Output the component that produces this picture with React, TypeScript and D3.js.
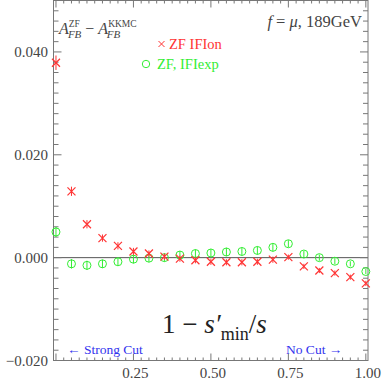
import { useEffect, useRef } from "react";
import * as d3 from "d3";

// x positions of the cut (1 - s'min/s)
const cuts = [0, 0.05, 0.1, 0.15, 0.2, 0.25, 0.3, 0.35, 0.4, 0.45, 0.5,
  0.55, 0.6, 0.65, 0.7, 0.75, 0.8, 0.85, 0.9, 0.95, 1.0];

// ZF IFIon minus KKMC
const ifiOn = [0.0379, 0.0129, 0.0065, 0.0038, 0.0023, 0.0012, 0.0008, 0.0002,
  -0.0002, -0.0005, -0.0008, -0.0009, -0.0009, -0.0008, -0.0004, 0.0001,
  -0.0017, -0.0025, -0.0030, -0.0038, -0.0050];
const ifiOnErr = [0.0014, 0.0009, 0.0008, 0.0007, 0.0007, 0.0007, 0.0006, 0.0006,
  0.0006, 0.0006, 0.0006, 0.0006, 0.0006, 0.0006, 0.0006, 0.0005,
  0.0005, 0.0005, 0.0005, 0.0005, 0.0005];

// ZF IFIexp minus KKMC
const ifiExp = [0.0050, -0.0012, -0.0015, -0.0012, -0.0008, -0.0003, -0.0001, 0.0000,
  0.0005, 0.0008, 0.0009, 0.0011, 0.0012, 0.0014, 0.0020, 0.0027,
  0.0007, 0.0000, -0.0007, -0.0012, -0.0027];
const ifiExpErr = [0.0010, 0.0009, 0.0009, 0.0008, 0.0008, 0.0008, 0.0008, 0.0008,
  0.0008, 0.0008, 0.0008, 0.0008, 0.0008, 0.0008, 0.0008, 0.0007,
  0.0006, 0.0006, 0.0006, 0.0005, 0.0005];

const xTicks = [0.25, 0.5, 0.75, 1.0];
const yTicks = [-0.02, 0, 0.02, 0.04];

const W = 382, H = 382;
const left = 53.5, right = 368, top = 0.5, bottom = 360.5;
const red = "#ff3333";
const green = "#33ee33";
const axisColor = "#777";
const textColor = "#444";
const font = "'Liberation Serif', serif";

function App() {
  const ref = useRef<SVGSVGElement>(null);

  useEffect(() => {
    const svg = d3.select(ref.current);
    svg.selectAll("*").remove();

    const x = d3.scaleLinear().domain([-0.008, 1.007]).range([left, right]);
    const y = d3.scaleLinear().domain([-0.02, 0.05]).range([bottom, top]);

    // frame
    svg.append("rect")
      .attr("x", left).attr("y", top)
      .attr("width", right - left).attr("height", bottom - top)
      .attr("fill", "none").attr("stroke", axisColor).attr("stroke-width", 1);

    // zero line
    svg.append("line")
      .attr("x1", left).attr("x2", right)
      .attr("y1", y(0)).attr("y2", y(0))
      .attr("stroke", "#555").attr("stroke-width", 1);

    // y ticks, both sides
    const yMinor = d3.range(-0.02, 0.0501, 0.002);
    yMinor.forEach(v => {
      const major = Math.abs(Math.round(v / 0.02) * 0.02 - v) < 1e-6;
      const len = major ? 8 : 5;
      svg.append("line").attr("x1", left).attr("x2", left + len)
        .attr("y1", y(v)).attr("y2", y(v)).attr("stroke", axisColor);
      svg.append("line").attr("x1", right).attr("x2", right - len)
        .attr("y1", y(v)).attr("y2", y(v)).attr("stroke", axisColor);
    });

    // x ticks, top and bottom
    const xMinor = d3.range(0, 1.0001, 0.025);
    xMinor.forEach(v => {
      const major = Math.abs(Math.round(v / 0.25) * 0.25 - v) < 1e-6;
      const len = major ? 7 : 3;
      svg.append("line").attr("x1", x(v)).attr("x2", x(v))
        .attr("y1", bottom).attr("y2", bottom - len).attr("stroke", axisColor);
      svg.append("line").attr("x1", x(v)).attr("x2", x(v))
        .attr("y1", top).attr("y2", top + len).attr("stroke", axisColor);
    });

    // tick labels
    svg.append("g").selectAll("text").data(yTicks).join("text")
      .attr("x", 48).attr("y", d => y(d) + 5)
      .attr("text-anchor", "end")
      .attr("font-family", font).attr("font-size", 15).attr("fill", textColor)
      .text(d => (d < 0 ? "\u2212" : "") + Math.abs(d).toFixed(3));

    svg.append("g").selectAll("text").data(xTicks).join("text")
      .attr("x", d => x(d) + 2).attr("y", 378)
      .attr("text-anchor", "middle")
      .attr("font-family", font).attr("font-size", 15).attr("fill", textColor)
      .text(d => d.toFixed(2));

    // error bars + markers
    const drawSeries = (vals: number[], errs: number[], color: string, kind: string) => {
      const g = svg.append("g");
      cuts.forEach((c, i) => {
        const cx = x(c), cy = y(vals[i]);
        g.append("line")
          .attr("x1", cx).attr("x2", cx)
          .attr("y1", y(vals[i] - errs[i])).attr("y2", y(vals[i] + errs[i]))
          .attr("stroke", color).attr("stroke-width", 1);
        if (kind === "x") {
          const s = 4;
          g.append("path")
            .attr("d", `M${cx - s},${cy - s}L${cx + s},${cy + s}M${cx - s},${cy + s}L${cx + s},${cy - s}`)
            .attr("stroke", color).attr("stroke-width", 1.2).attr("fill", "none");
        } else {
          g.append("circle").attr("cx", cx).attr("cy", cy).attr("r", 4)
            .attr("fill", "none").attr("stroke", color).attr("stroke-width", 1);
        }
      });
    };
    drawSeries(ifiExp, ifiExpErr, green, "o");
    drawSeries(ifiOn, ifiOnErr, red, "x");

    // legend
    const lx = 161.5, ly = 44;
    svg.append("path")
      .attr("d", `M${lx - 3},${ly - 3}L${lx + 3},${ly + 3}M${lx - 3},${ly + 3}L${lx + 3},${ly - 3}`)
      .attr("stroke", red).attr("stroke-width", 1);
    svg.append("text").attr("x", 169).attr("y", 48.5)
      .attr("font-family", font).attr("font-size", 14.5).attr("fill", red)
      .text("ZF IFIon");
    svg.append("circle").attr("cx", 146).attr("cy", 64).attr("r", 3.7)
      .attr("fill", "none").attr("stroke", green);
    svg.append("text").attr("x", 157).attr("y", 68.5)
      .attr("font-family", font).attr("font-size", 14.5).attr("fill", green)
      .text("ZF, IFIexp");

    // top left label
    const t = svg.append("text").attr("x", 59).attr("y", 34)
      .attr("font-family", font).attr("font-size", 16).attr("fill", textColor);
    t.append("tspan").attr("font-style", "italic").text("A");
    t.append("tspan").attr("font-size", 9.5).attr("dy", -7).text("ZF");
    t.append("tspan").attr("font-size", 11).attr("font-style", "italic").attr("dx", -12).attr("dy", 11).text("FB");
    t.append("tspan").attr("dy", -4).text(" \u2212 ");
    t.append("tspan").attr("font-style", "italic").text("A");
    t.append("tspan").attr("font-size", 9.5).attr("dy", -7).text("KKMC");
    t.append("tspan").attr("font-size", 11).attr("font-style", "italic").attr("dx", -30).attr("dy", 11).text("FB");

    // top right label
    const r = svg.append("text").attr("x", 362).attr("y", 27)
      .attr("text-anchor", "end")
      .attr("font-family", font).attr("font-size", 16.5).attr("fill", textColor);
    r.append("tspan").attr("font-style", "italic").text("f");
    r.append("tspan").text(" = ");
    r.append("tspan").attr("font-style", "italic").text("\u03bc");
    r.append("tspan").text(", 189GeV");

    // axis title
    const a = svg.append("text").attr("x", 162).attr("y", 333)
      .attr("font-family", font).attr("font-size", 27).attr("fill", "#222");
    a.append("tspan").text("1 \u2212 ");
    a.append("tspan").attr("font-style", "italic").text("s\u2032");
    a.append("tspan").attr("font-size", 18).attr("dy", 7).text("min");
    a.append("tspan").attr("dy", -7).text("/");
    a.append("tspan").attr("font-style", "italic").text("s");

    // cut direction hints
    svg.append("text").attr("x", 67).attr("y", 354)
      .attr("font-family", font).attr("font-size", 13.5).attr("fill", "#3333ee")
      .text("\u2190 Strong Cut");
    svg.append("text").attr("x", 286).attr("y", 354)
      .attr("font-family", font).attr("font-size", 13.5).attr("fill", "#3333ee")
      .text("No Cut \u2192");
  }, []);

  return <svg ref={ref} width={W} height={H} style={{ position: "absolute", left: 0, top: 0 }} />;
}

export default App;
